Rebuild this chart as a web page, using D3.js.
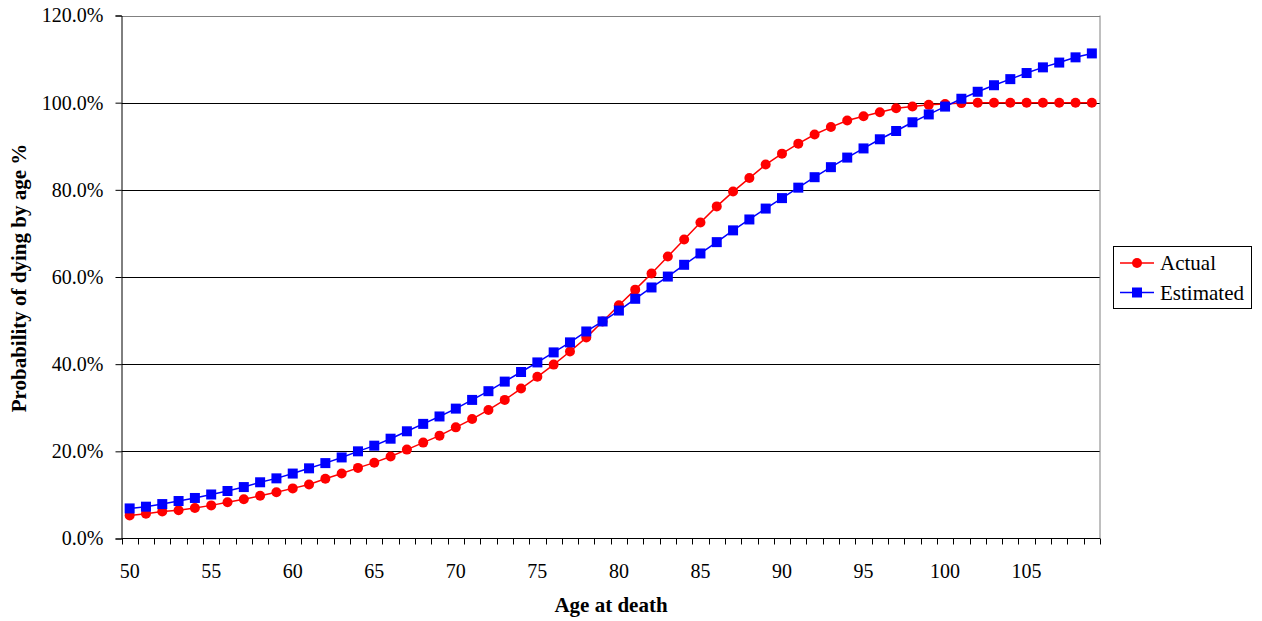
<!DOCTYPE html>
<html><head><meta charset="utf-8">
<script src="https://cdn.jsdelivr.net/npm/d3@7"></script>
<style>body{margin:0;background:#fff}svg{display:block;font-family:"Liberation Serif","Times New Roman",serif}svg text{font-family:"Liberation Serif","Times New Roman",serif;fill:#000}</style>
</head><body><svg id="c" width="1262" height="621"></svg>
<script>
const ages = d3.range(50, 110);
const actual = [5.3,5.7,6.2,6.5,7.0,7.6,8.3,9.0,9.8,10.6,11.5,12.4,13.7,14.9,16.2,17.4,18.8,20.4,22.0,23.6,25.5,27.4,29.5,31.8,34.4,37.1,39.9,42.9,46.1,49.8,53.5,57.1,60.8,64.7,68.6,72.5,76.2,79.6,82.7,85.8,88.3,90.6,92.7,94.4,95.9,96.9,97.8,98.7,99.1,99.5,99.7,99.9,100,100,100,100,100,100,100,100];
const estimated = [6.9,7.3,7.9,8.6,9.3,10.1,10.9,11.8,12.9,13.8,14.9,16.1,17.3,18.6,20.0,21.3,22.9,24.6,26.3,28.0,29.8,31.8,33.8,36.0,38.2,40.4,42.7,45.0,47.5,49.8,52.3,55.0,57.6,60.1,62.8,65.4,68.0,70.7,73.2,75.7,78.1,80.5,82.9,85.2,87.4,89.5,91.6,93.5,95.5,97.3,99.1,100.9,102.5,104.0,105.4,106.8,108.1,109.2,110.4,111.3];
const yTicks = [0,20,40,60,80,100,120];
const xLabels = [50,55,60,65,70,75,80,85,90,95,100,105];
const seriesNames = ["Actual","Estimated"];

const svg = d3.select("#c");
const L=121.5, R=1100, T=15.5, B=538.5;
const x = d3.scaleBand().domain(ages).range([L,R]);
const y = d3.scaleLinear().domain([0,120]).range([B,T]);

// gridlines
svg.append("g").selectAll("line").data(yTicks.filter(d=>d>0)).join("line")
  .attr("x1",L).attr("x2",R).attr("y1",d=>Math.round(y(d))+0.5).attr("y2",d=>Math.round(y(d))+0.5)
  .attr("stroke",d=>d===120?"#808080":"#000").attr("stroke-width",1);
// right border
svg.append("line").attr("x1",R).attr("x2",R).attr("y1",T).attr("y2",B).attr("stroke","#808080");

// y axis
const ya = svg.append("g").attr("transform",`translate(${L},0)`)
  .call(d3.axisLeft(y).tickValues(yTicks).tickSize(6).tickPadding(12).tickFormat(d=>d.toFixed(1)+"%"));
ya.attr("font-family",null);
ya.select(".domain").attr("stroke","#000");
ya.selectAll("text").attr("font-size",20).attr("fill","#000");

// x axis: ticks at band boundaries
const xg = svg.append("g");
xg.append("line").attr("x1",L).attr("x2",R).attr("y1",B).attr("y2",B).attr("stroke","#000");
const bounds = ages.map(a=>x(a)).concat([R]);
xg.selectAll("line.t").data(bounds).join("line").attr("class","t")
  .attr("x1",d=>Math.round(d)+0.5).attr("x2",d=>Math.round(d)+0.5).attr("y1",B).attr("y2",B+6).attr("stroke","#000");
xg.selectAll("text").data(xLabels).join("text")
  .attr("x",d=>x(d)+x.bandwidth()/2).attr("y",B+39).attr("text-anchor","middle")
  .attr("font-size",20).text(d=>d);

const cx = a=>x(a)+x.bandwidth()/2;
const line = d3.line().x((d,i)=>cx(ages[i])).y(d=>y(d));

// series
svg.append("path").datum(actual).attr("d",line).attr("fill","none").attr("stroke","#ff0000").attr("stroke-width",1.5);
svg.append("path").datum(estimated).attr("d",line).attr("fill","none").attr("stroke","#0000ff").attr("stroke-width",1.5);
svg.append("g").selectAll("circle").data(actual).join("circle")
  .attr("cx",(d,i)=>cx(ages[i])).attr("cy",d=>y(d)).attr("r",5).attr("fill","#ff0000");
svg.append("g").selectAll("rect").data(estimated).join("rect")
  .attr("x",(d,i)=>cx(ages[i])-5).attr("y",d=>y(d)-5).attr("width",10).attr("height",10).attr("fill","#0000ff");

// axis titles
svg.append("text").attr("x",611).attr("y",612).attr("text-anchor","middle").attr("font-size",21).attr("font-weight","bold").text("Age at death");
svg.append("text").attr("transform","translate(26,278) rotate(-90)").attr("text-anchor","middle").attr("font-size",21).attr("font-weight","bold").text("Probability of dying by age %");

// legend
const lg = svg.append("g");
lg.append("rect").attr("x",1113.5).attr("y",246.5).attr("width",138).attr("height",62).attr("fill","#fff").attr("stroke","#000");
const colors=["#ff0000","#0000ff"];
seriesNames.forEach((n,i)=>{
  const yy = 263 + i*29.5;
  lg.append("line").attr("x1",1120).attr("x2",1154).attr("y1",yy).attr("y2",yy).attr("stroke",colors[i]).attr("stroke-width",1.5);
  if(i===0) lg.append("circle").attr("cx",1137).attr("cy",yy).attr("r",5).attr("fill",colors[i]);
  else lg.append("rect").attr("x",1132).attr("y",yy-5).attr("width",10).attr("height",10).attr("fill",colors[i]);
  lg.append("text").attr("x",1160).attr("y",yy+7).attr("font-size",21).text(n);
});
</script></body></html>
